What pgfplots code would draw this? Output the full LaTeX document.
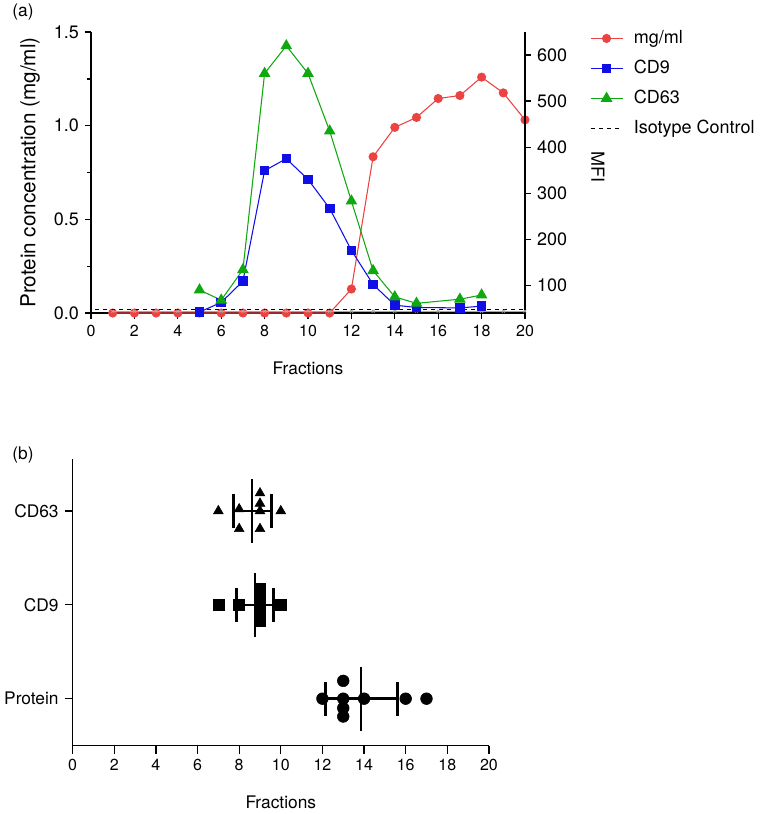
\documentclass[border=0pt]{standalone}
\usepackage{fontspec}
\setmainfont{TeX Gyre Heros}
\usepackage{pgfplots}
\pgfplotsset{compat=1.18}
\definecolor{cred}{RGB}{236,66,66}
\definecolor{cblue}{RGB}{16,16,230}
\definecolor{cgreen}{RGB}{16,168,16}
\begin{document}
\fontsize{13}{15}\selectfont
\begin{tikzpicture}
\path[use as bounding box] (0,0) rectangle (570.75pt,-610.5pt);
\pgfplotsset{
  common/.style={
    scale only axis, clip=false,
    /pgf/number format/assume math mode=true,
    tick align=outside,
    axis line style={line width=1pt},
    major tick length=4.5pt, minor tick length=3pt,
    every tick/.style={black, line width=1pt},
    xticklabel style={font=\fontsize{12}{14}\selectfont},
    yticklabel style={font=\fontsize{13.5}{15}\selectfont},
    label style={font=\fontsize{13}{15}\selectfont},
  }
}
\node at (17.25pt,-9pt) {(a)};
\node at (17.25pt,-341pt) {(b)};
% ---------------- top: protein concentration ----------------
\begin{axis}[common,
  at={(68.25pt,-234.75pt)}, anchor=south west,
  width=325.5pt, height=210.75pt,
  xmin=0, xmax=20, ymin=0, ymax=1.5,
  axis x line*=bottom, axis y line*=left,
  xtick={0,2,...,20}, ytick={0,0.5,1,1.5}, minor ytick={0.25,0.75,1.25},
  yticklabel style={/pgf/number format/.cd, fixed, fixed zerofill, precision=1},
  xlabel={Fractions}, ylabel={Protein concentration (mg/ml)},
  every axis x label/.style={at={(axis description cs:0.5,-0.1955)},anchor=center},
  every axis y label/.style={at={(axis description cs:-0.1406,0.5)},rotate=90,anchor=center,font=\fontsize{15.5}{17}\selectfont},
]
\addplot[cred, line width=0.8pt, mark=*, mark size=3pt] coordinates {
 (1,0) (2,0) (3,0) (4,0) (5,0) (6,0) (7,0) (8,0) (9,0) (10,0) (11,0)
 (12,0.128) (13,0.834) (14,0.991) (15,1.044) (16,1.145) (17,1.161)
 (18,1.259) (19,1.175) (20,1.031)};
\end{axis}
% ---------------- top: MFI ----------------
\begin{axis}[common,
  at={(68.25pt,-234.75pt)}, anchor=south west,
  width=325.5pt, height=210.75pt,
  xmin=0, xmax=20, ymin=40, ymax=650,
  axis x line=none, axis y line*=right,
  ytick={100,200,...,600},
  ylabel={MFI},
  every axis y label/.style={at={(axis description cs:1.168,0.519)},rotate=-90,anchor=center,font=\fontsize{13.5}{15}\selectfont},
  legend style={at={(axis description cs:1.140,1.025)}, anchor=north west,
    draw=none, fill=none, row sep=6.5pt, column sep=6pt,
    font=\fontsize{13.5}{15}\selectfont},
  legend cell align=left,
  legend image code/.code={\draw[mark repeat=2,mark phase=2,#1] plot coordinates {(0pt,0pt) (12pt,0pt) (24pt,0pt)};},
]
\addlegendimage{cred, line width=0.8pt, mark=*, mark size=3pt}
\addlegendentry{mg/ml}
\addplot[gray!70, line width=0.6pt, mark=x, mark size=1.5pt, forget plot] coordinates {
 (1,44) (2,44) (3,44) (4,44) (5,44) (6,44) (7,44) (8,44) (9,44) (10,44)
 (11,44) (12,44) (13,44) (14,44) (15,44) (16,44) (17,44) (18,44) (19,44) (20,44)};
\addplot[cblue, line width=0.8pt, mark=square*, mark size=3.2pt] coordinates {
 (5,42) (6,63) (7,109) (8,349) (9,375) (10,330) (11,267) (12,176)
 (13,102) (14,57) (15,52) (17,51) (18,55)};
\addlegendentry{CD9}
\addplot[cgreen, line width=0.8pt, mark=triangle*, mark size=4.3pt] coordinates {
 (5,90) (6,68) (7,134) (8,560) (9,620) (10,560) (11,435) (12,283)
 (13,132) (14,75) (15,61) (17,70) (18,79)};
\addlegendentry{CD63}
\addplot[black, line width=0.8pt, dashed] coordinates {(0.2,48) (20,48)};
\addlegendentry{Isotype Control}
\end{axis}
% ---------------- bottom ----------------
\begin{axis}[common,
  at={(54.5pt,-559.2pt)}, anchor=south west,
  width=312.2pt, height=214.7pt,
  xmin=0, xmax=20, ymin=-0.5, ymax=2.55,
  axis x line*=bottom, axis y line*=left,
  xtick={0,2,...,20}, ytick={0,1,2}, yticklabels={Protein,CD9,CD63},
  yticklabel style={font=\fontsize{13}{15}\selectfont},
  major tick length=6pt,
  xlabel={Fractions},
  every axis x label/.style={at={(axis description cs:0.5,-0.197)},anchor=center},
]
% CD63
\addplot[only marks, black, mark=triangle*, mark size=4.2pt] coordinates {
 (7,2) (8,2.02) (8,1.81) (9,2.19) (9,2.08) (9,2.0) (9,1.81) (10,2)};
% CD9
\addplot[only marks, black, mark=square*, mark size=4.1pt] coordinates {
 (7,1) (8,1) (9,1.17) (9,1.085) (9,1) (9,0.915) (9,0.83) (10,1)};
% Protein
\addplot[only marks, black, mark=*, mark size=4.4pt] coordinates {
 (12,0) (13,0.19) (13,0) (13,-0.1) (13,-0.19) (14,0) (16,0) (17,0)};
% mean and SD
\addplot[black, line width=1.5pt] coordinates {(8.625,1.66) (8.625,2.34)};
\addplot[black, line width=1.9pt] coordinates {(7.709,2) (9.541,2)};
\addplot[black, line width=2.4pt] coordinates {(7.709,1.82) (7.709,2.18)};
\addplot[black, line width=2.4pt] coordinates {(9.541,1.82) (9.541,2.18)};
\addplot[black, line width=1.5pt] coordinates {(8.75,0.66) (8.75,1.34)};
\addplot[black, line width=1.9pt] coordinates {(7.864,1) (9.636,1)};
\addplot[black, line width=2.4pt] coordinates {(7.864,0.82) (7.864,1.18)};
\addplot[black, line width=2.4pt] coordinates {(9.636,0.82) (9.636,1.18)};
\addplot[black, line width=1.5pt] coordinates {(13.875,-0.34) (13.875,0.34)};
\addplot[black, line width=1.9pt] coordinates {(12.148,0) (15.602,0)};
\addplot[black, line width=2.4pt] coordinates {(12.148,-0.18) (12.148,0.18)};
\addplot[black, line width=2.4pt] coordinates {(15.602,-0.18) (15.602,0.18)};
\end{axis}
\end{tikzpicture}
\end{document}
